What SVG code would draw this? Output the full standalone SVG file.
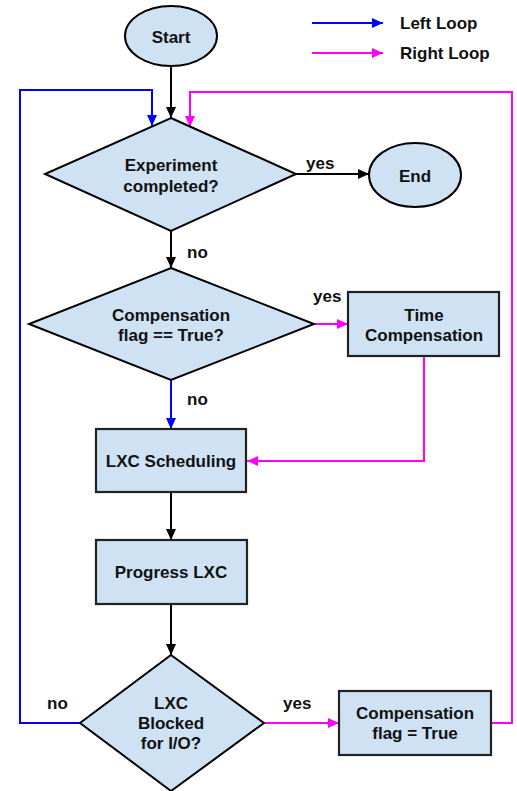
<svg xmlns="http://www.w3.org/2000/svg" width="517" height="791" viewBox="0 0 517 791">
<style>
.n{fill:#cfe2f3;stroke:#000;stroke-width:2}
.r{fill:#cfe2f3;stroke:#222;stroke-width:2.2}
text{font-family:"Liberation Sans",Arial,sans-serif;font-weight:bold;font-size:17px;fill:#111}
.c{text-anchor:middle}
.k{fill:none;stroke:#000;stroke-width:2}
.b{fill:none;stroke:#0000ff;stroke-width:2}
.m{fill:none;stroke:#ff00ff;stroke-width:2}
</style>
<defs>
<marker id="ak" markerWidth="12" markerHeight="10" refX="11" refY="5" orient="auto" markerUnits="userSpaceOnUse"><path d="M0,0 L11,5 L0,10 z" fill="#000"/></marker>
<marker id="ab" markerWidth="12" markerHeight="10" refX="11" refY="5" orient="auto" markerUnits="userSpaceOnUse"><path d="M0,0 L11,5 L0,10 z" fill="#0000ff"/></marker>
<marker id="am" markerWidth="12" markerHeight="10" refX="11" refY="5" orient="auto" markerUnits="userSpaceOnUse"><path d="M0,0 L11,5 L0,10 z" fill="#ff00ff"/></marker>
</defs>
<rect width="517" height="791" fill="#fff"/>
<g id="legend">
<line class="b" x1="312" y1="23" x2="383" y2="23" marker-end="url(#ab)"/>
<text x="400" y="29">Left Loop</text>
<line class="m" x1="312" y1="53" x2="383" y2="53" marker-end="url(#am)"/>
<text x="400" y="59">Right Loop</text>
</g>
<g id="connectors">
<line class="k" x1="171" y1="67" x2="171" y2="118" marker-end="url(#ak)"/>
<polyline class="b" points="80,723 20,723 20,90 152,90 152,126" marker-end="url(#ab)"/>
<polyline class="m" points="491,723 512,723 512,92 190,92 190,127" marker-end="url(#am)"/>
<line class="k" x1="296" y1="174" x2="369" y2="174" marker-end="url(#ak)"/>
<line class="k" x1="171" y1="231" x2="171" y2="268" marker-end="url(#ak)"/>
<line class="m" x1="314" y1="324" x2="348" y2="324" marker-end="url(#am)"/>
<polyline class="m" points="424,356 424,461 247,461" marker-end="url(#am)"/>
<line class="b" x1="171" y1="380" x2="171" y2="429" marker-end="url(#ab)"/>
<line class="k" x1="171" y1="492" x2="171" y2="540" marker-end="url(#ak)"/>
<line class="k" x1="171" y1="604" x2="171" y2="655" marker-end="url(#ak)"/>
<line class="m" x1="264" y1="723" x2="339" y2="723" marker-end="url(#am)"/>
<text x="306" y="169">yes</text>
<text x="187" y="258">no</text>
<text x="313" y="302">yes</text>
<text x="187" y="405">no</text>
<text x="47" y="709">no</text>
<text x="283" y="709">yes</text>
</g>
<g id="start">
<ellipse class="n" cx="171" cy="36" rx="46" ry="30"/>
<text class="c" x="171" y="43">Start</text>
</g>
<g id="experiment">
<polygon class="n" points="171,118 296,174 171,231 45,174"/>
<text class="c" x="171" y="171">Experiment</text>
<text class="c" x="171" y="192">completed?</text>
</g>
<g id="end">
<ellipse class="n" cx="415" cy="175" rx="46" ry="32"/>
<text class="c" x="415" y="182">End</text>
</g>
<g id="compflag">
<polygon class="n" points="171,268 314,324 171,380 29,324"/>
<text class="c" x="171" y="321">Compensation</text>
<text class="c" x="171" y="341">flag == True?</text>
</g>
<g id="timecomp">
<rect class="r" x="348" y="292" width="151" height="64"/>
<text class="c" x="424" y="321">Time</text>
<text class="c" x="424" y="341">Compensation</text>
</g>
<g id="sched">
<rect class="r" x="96" y="429" width="150" height="63"/>
<text class="c" x="171" y="467">LXC Scheduling</text>
</g>
<g id="progress">
<rect class="r" x="96" y="540" width="151" height="64"/>
<text class="c" x="171" y="578">Progress LXC</text>
</g>
<g id="blocked">
<polygon class="n" points="171,655 264,723 171,791 80,723"/>
<text class="c" x="171" y="709">LXC</text>
<text class="c" x="171" y="729">Blocked</text>
<text class="c" x="171" y="749">for I/O?</text>
</g>
<g id="setflag">
<rect class="r" x="339" y="691" width="152" height="64"/>
<text class="c" x="415" y="719">Compensation</text>
<text class="c" x="415" y="739">flag = True</text>
</g>
</svg>
